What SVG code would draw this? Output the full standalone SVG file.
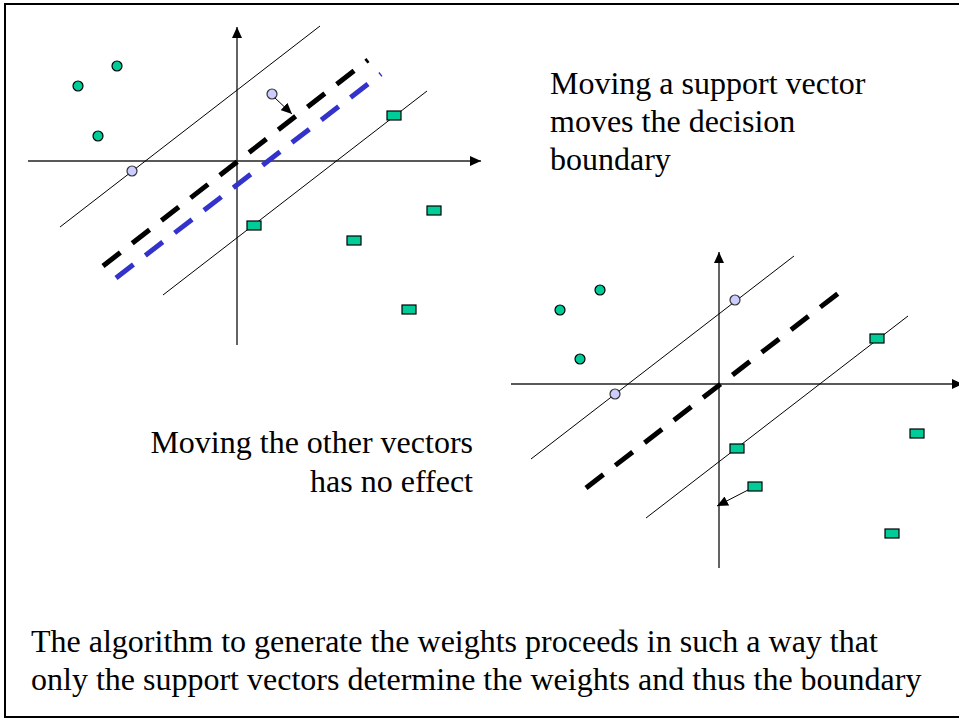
<svg xmlns="http://www.w3.org/2000/svg" width="959" height="720" viewBox="0 0 959 720">
<style>
.axis{stroke:#222;stroke-width:1.4;fill:none}
.margin{stroke:#000;stroke-width:1;fill:none}
.dash-k{stroke:#000;stroke-width:5;fill:none;stroke-dasharray:22 15}
.dash-b{stroke:#3333CC;stroke-width:5;fill:none;stroke-dasharray:22 15}
.pos{fill:#00CC99;stroke:#000;stroke-width:1.2}
.sv{fill:#CCCCFF;stroke:#333;stroke-width:1.2}
.neg{fill:#00CC99;stroke:#000;stroke-width:1.2}
.move{stroke:#000;stroke-width:1;fill:none}
</style>
<defs>
<marker id="ah" markerUnits="userSpaceOnUse" markerWidth="11" markerHeight="10" refX="11" refY="5" orient="auto">
<path d="M0,0 L11,5 L0,10 z" fill="#000"/>
</marker>
</defs>
<rect x="5" y="4" width="960" height="713" fill="#fff" stroke="#000" stroke-width="2"/>

<g id="panel-left">
<line class="axis" x1="237" y1="345" x2="237" y2="27" marker-end="url(#ah)"/>
<line class="axis" x1="28" y1="161" x2="481" y2="161" marker-end="url(#ah)"/>
<line class="margin" x1="60" y1="227" x2="320" y2="26"/>
<line class="margin" x1="163" y1="295" x2="427" y2="91"/>
<line class="dash-k" x1="103" y1="266" x2="368" y2="60"/>
<line class="dash-b" x1="116" y1="278" x2="381" y2="74"/>
<circle class="pos" cx="78" cy="86" r="5"/>
<circle class="pos" cx="117" cy="66" r="5"/>
<circle class="pos" cx="98" cy="136" r="5"/>
<circle class="sv" cx="132" cy="171" r="5"/>
<circle class="sv" cx="272" cy="94" r="5"/>
<rect class="neg" x="247" y="221" width="14" height="9"/>
<rect class="neg" x="387" y="111" width="14" height="9"/>
<rect class="neg" x="427" y="206" width="14" height="9"/>
<rect class="neg" x="347" y="236" width="14" height="9"/>
<rect class="neg" x="402" y="305" width="14" height="9"/>
</g>

<g id="panel-right">
<line class="axis" x1="719" y1="568" x2="719" y2="252" marker-end="url(#ah)"/>
<line class="axis" x1="511" y1="384" x2="963" y2="384" marker-end="url(#ah)"/>
<line class="margin" x1="531" y1="459" x2="794" y2="256"/>
<line class="margin" x1="646" y1="518" x2="908" y2="316"/>
<line class="dash-k" x1="586" y1="488" x2="849" y2="285"/>
<circle class="pos" cx="560" cy="310" r="5"/>
<circle class="pos" cx="600" cy="290" r="5"/>
<circle class="pos" cx="580" cy="359" r="5"/>
<circle class="sv" cx="615" cy="394" r="5"/>
<circle class="sv" cx="735" cy="300" r="5"/>
<rect class="neg" x="870" y="334" width="14" height="9"/>
<rect class="neg" x="730" y="444" width="14" height="9"/>
<rect class="neg" x="748" y="482" width="14" height="9"/>
<rect class="neg" x="910" y="429" width="14" height="9"/>
<rect class="neg" x="885" y="529" width="14" height="9"/>
</g>

<g id="connectors">
<line class="move" x1="275" y1="98" x2="292" y2="114" marker-end="url(#ah)"/>
<line class="move" x1="748" y1="490" x2="717" y2="506" marker-end="url(#ah)"/>
</g>

<g id="labels" font-family="'Times New Roman', 'Liberation Serif', Tinos, serif" font-size="32" fill="#000">
<text x="550" y="94">Moving a support vector</text>
<text x="550" y="132">moves the decision</text>
<text x="550" y="170">boundary</text>
<text x="473" y="453" text-anchor="end">Moving the other vectors</text>
<text x="473" y="492" text-anchor="end">has no effect</text>
<text x="31" y="652">The algorithm to generate the weights proceeds in such a way that</text>
<text x="31" y="690">only the support vectors determine the weights and thus the boundary</text>
</g>
</svg>
